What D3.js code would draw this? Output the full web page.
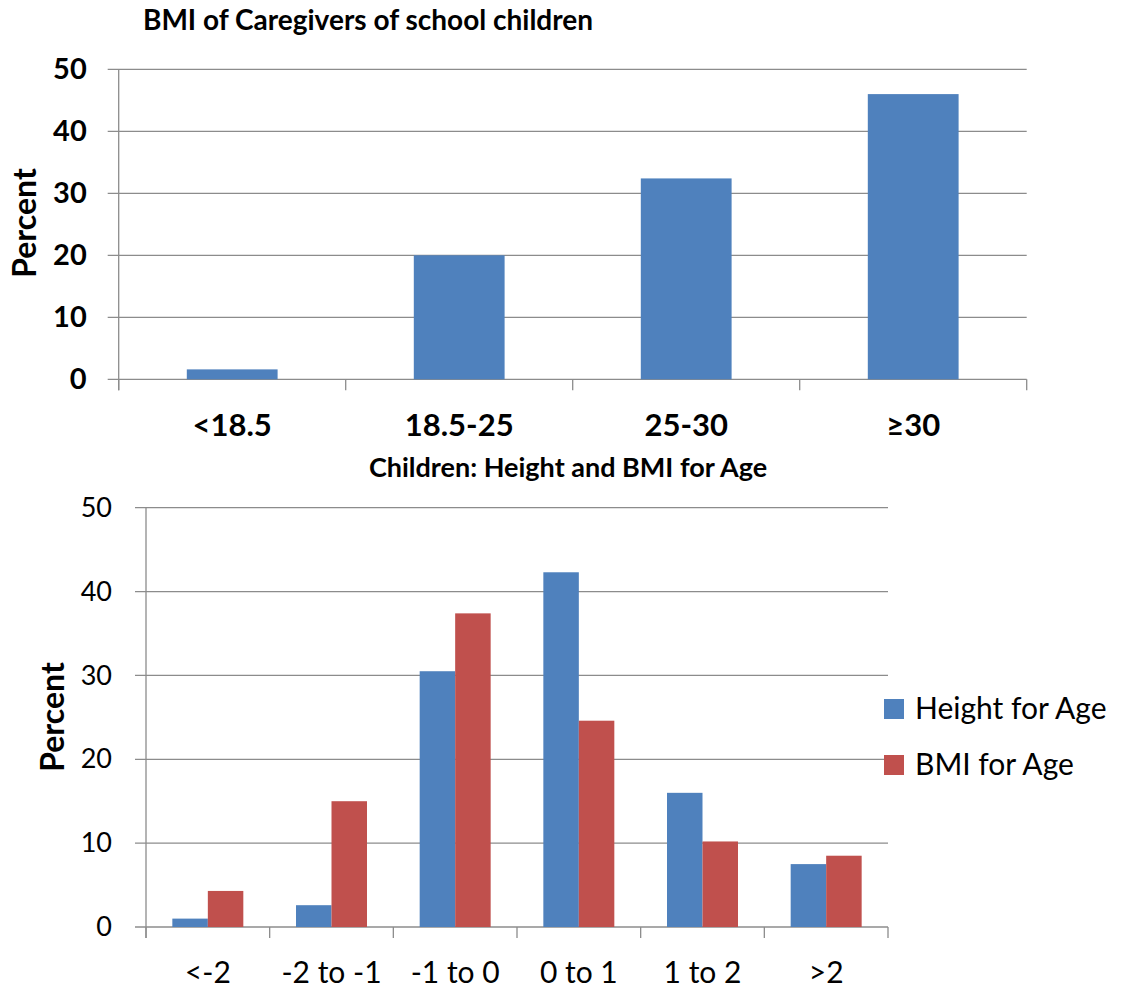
<!DOCTYPE html>
<html>
<head>
<meta charset="utf-8">
<script src="https://cdn.jsdelivr.net/npm/d3@7"></script>
<style>
  html, body { margin: 0; padding: 0; background: #fff; }
  svg { display: block; font-family: Lato, "Open Sans", sans-serif; }
</style>
</head>
<body>
<svg id="chart" width="1121" height="989"></svg>
<script>
// Caregiver BMI distribution
const bmiClasses = ["<18.5", "18.5-25", "25-30", "\u226530"];
const caregiverPct = [1.6, 20.0, 32.4, 46.0];

// Children z-score distribution
const zBands = ["<-2", "-2 to -1", "-1 to 0", "0 to 1", "1 to 2", ">2"];
const heightForAge = [1.0, 2.6, 30.5, 42.3, 16.0, 7.5];
const bmiForAge = [4.3, 15.0, 37.4, 24.6, 10.2, 8.5];

const seriesNames = ["Height for Age", "BMI for Age"];
const yTicks = [0, 10, 20, 30, 40, 50];

const BLUE = "#4F81BD", RED = "#C0504D", GRID = "#8c8c8c";
const svg = d3.select("#chart");

function drawFrame(g, x, y, opts) {
  const [x0, x1] = x.range();
  // horizontal gridlines (extend left across tick length)
  g.append("g").selectAll("line").data(yTicks).join("line")
    .attr("x1", x0 - opts.tick).attr("x2", x1)
    .attr("y1", d => y(d)).attr("y2", d => y(d))
    .attr("stroke", GRID).attr("stroke-width", 1.3);
  // vertical axis line
  g.append("line")
    .attr("x1", x0).attr("x2", x0)
    .attr("y1", y(50)).attr("y2", y(0) + opts.tick)
    .attr("stroke", GRID).attr("stroke-width", 1.3);
  // y tick labels through a d3 axis
  const ya = g.append("g").attr("transform", `translate(${x0},0)`)
    .call(d3.axisLeft(y).tickValues(yTicks).tickSize(0).tickPadding(opts.labelPad));
  ya.select(".domain").remove();
  ya.selectAll("text")
    .attr("font-family", "Lato, sans-serif")
    .attr("font-size", opts.yFont).attr("font-weight", opts.yWeight)
    .attr("fill", "#000");
  // category boundary ticks
  const n = x.domain().length;
  const bounds = d3.range(n + 1).map(i => x0 + i * (x1 - x0) / n);
  g.append("g").selectAll("line").data(bounds).join("line")
    .attr("x1", d => d).attr("x2", d => d)
    .attr("y1", y(0)).attr("y2", y(0) + opts.tick)
    .attr("stroke", GRID).attr("stroke-width", 1.3);
  // category labels through a d3 axis
  const xa = g.append("g").attr("transform", `translate(0,${opts.catBaseline})`)
    .call(d3.axisBottom(x).tickSize(0).tickPadding(0));
  xa.select(".domain").remove();
  xa.selectAll("text")
    .attr("dy", 0).attr("y", 0)
    .attr("font-family", "Lato, sans-serif")
    .attr("font-size", opts.xFont).attr("font-weight", opts.xWeight)
    .attr("fill", "#000");
}

// ---------- Top chart: BMI of caregivers ----------
{
  const g = svg.append("g");
  const x = d3.scaleBand().domain(bmiClasses).range([118.7, 1026.7])
    .paddingInner(0.6).paddingOuter(0.3);
  const y = d3.scaleLinear().domain([0, 50]).range([379.3, 69.3]);

  drawFrame(g, x, y, { tick: 11, labelPad: 32, yFont: 29, yWeight: 700,
                       catBaseline: 436, xFont: 31, xWeight: 700 });

  g.append("g").selectAll("rect").data(caregiverPct).join("rect")
    .attr("x", (d, i) => x(bmiClasses[i]))
    .attr("width", x.bandwidth())
    .attr("y", d => y(d))
    .attr("height", d => y(0) - y(d))
    .attr("fill", BLUE);

  g.append("text").attr("x", 368).attr("y", 30).attr("text-anchor", "middle")
    .attr("font-size", 28).attr("font-weight", 700).text("BMI of Caregivers of school children");

  g.append("text").attr("transform", "translate(36,223) rotate(-90)")
    .attr("text-anchor", "middle").attr("font-size", 32).attr("font-weight", 700)
    .text("Percent");
}

// ---------- Bottom chart: children height & BMI for age ----------
{
  const g = svg.append("g");
  const x = d3.scaleBand().domain(zBands).range([146, 888])
    .paddingInner(0.426).paddingOuter(0.213);
  const xs = d3.scaleBand().domain(seriesNames).range([0, x.bandwidth()]);
  const y = d3.scaleLinear().domain([0, 50]).range([927, 507.7]);

  drawFrame(g, x, y, { tick: 11, labelPad: 34, yFont: 27, yWeight: 400,
                       catBaseline: 983, xFont: 30, xWeight: 400 });

  const series = [heightForAge, bmiForAge];
  const colors = [BLUE, RED];
  series.forEach((vals, s) => {
    g.append("g").selectAll("rect").data(vals).join("rect")
      .attr("x", (d, i) => x(zBands[i]) + xs(seriesNames[s]))
      .attr("width", xs.bandwidth())
      .attr("y", d => y(d))
      .attr("height", d => y(0) - y(d))
      .attr("fill", colors[s]);
  });

  g.append("text").attr("x", 568).attr("y", 477).attr("text-anchor", "middle")
    .attr("font-size", 27).attr("font-weight", 700).text("Children: Height and BMI for Age");

  g.append("text").attr("transform", "translate(64,717) rotate(-90)")
    .attr("text-anchor", "middle").attr("font-size", 32).attr("font-weight", 700)
    .text("Percent");

  // legend
  const lg = g.append("g").attr("transform", "translate(884,699)");
  seriesNames.forEach((name, i) => {
    const row = lg.append("g").attr("transform", `translate(0,${i * 56})`);
    row.append("rect").attr("width", 20).attr("height", 20).attr("fill", colors[i]);
    row.append("text").attr("x", 31).attr("y", 20)
      .attr("font-size", 30).attr("fill", "#000").text(name);
  });
}
</script>
</body>
</html>
